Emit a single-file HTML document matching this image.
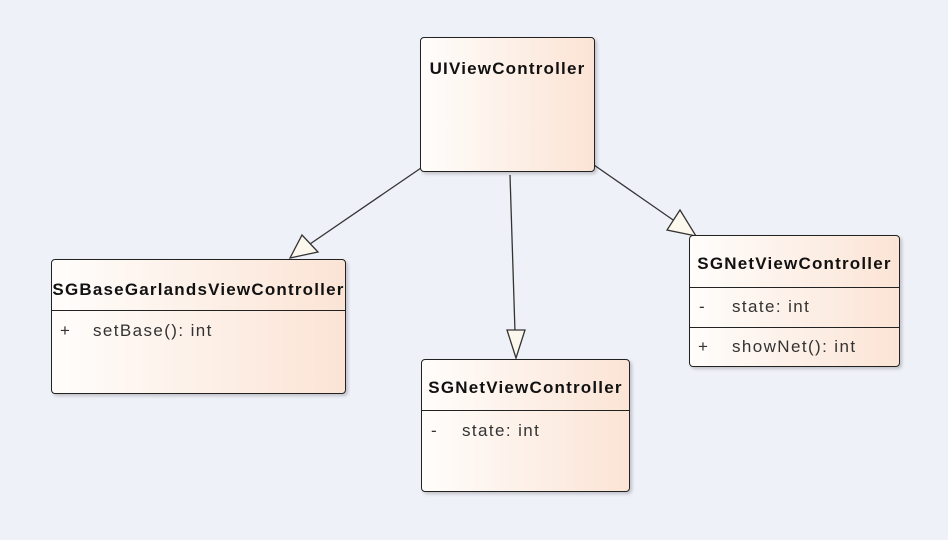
<!DOCTYPE html>
<html><head><meta charset="utf-8"><style>
body{margin:0;width:948px;height:540px;background:#eff1f8;position:relative;overflow:hidden;font-family:"Liberation Sans",sans-serif;}
.b{position:absolute;border:1.5px solid #222;border-radius:4px;background:linear-gradient(to right,#fffdfb,#fbe4d5);box-shadow:2px 2px 3px rgba(0,0,0,.2);box-sizing:border-box;}
.h{font-weight:bold;font-size:17px;letter-spacing:1.2px;text-align:center;color:#111;white-space:nowrap;}
.d{position:absolute;left:0;right:0;border-top:1.5px solid #222;}
.t{position:absolute;font-size:17px;letter-spacing:1.4px;color:#333;white-space:pre;}
svg{position:absolute;left:0;top:0;}
</style></head><body>
<svg width="948" height="540">
<g stroke="#333" stroke-width="1.3" fill="#fdf8ee">
<line x1="421" y1="168" x2="310" y2="244"/>
<polygon points="290,258 302,235 318,252"/>
<line x1="510" y1="175" x2="515" y2="332"/>
<polygon points="516,358 507,330 525,330"/>
<line x1="594" y1="165" x2="676" y2="222"/>
<polygon points="696,236 667,230 680,210"/>
</g>
</svg>
<div class="b" style="left:420px;top:37px;width:175px;height:135px;"><div class="h" style="margin-top:21px">UIViewController</div></div>
<div class="b" style="left:51px;top:259px;width:295px;height:135px;"><div class="h" style="margin-top:20px">SGBaseGarlandsViewController</div><div class="d" style="top:50px"></div><div class="t" style="left:8px;top:61px">+</div><div class="t" style="left:41px;top:61px">setBase(): int</div></div>
<div class="b" style="left:421px;top:359px;width:209px;height:133px;"><div class="h" style="margin-top:18px">SGNetViewController</div><div class="d" style="top:50px"></div><div class="t" style="left:9px;top:61px">-</div><div class="t" style="left:40px;top:61px">state: int</div></div>
<div class="b" style="left:689px;top:235px;width:211px;height:132px;"><div class="h" style="margin-top:18px">SGNetViewController</div><div class="d" style="top:51px"></div><div class="t" style="left:9px;top:61px">-</div><div class="t" style="left:42px;top:61px">state: int</div><div class="d" style="top:91px"></div><div class="t" style="left:8px;top:101px">+</div><div class="t" style="left:42px;top:101px">showNet(): int</div></div>
</body></html>
